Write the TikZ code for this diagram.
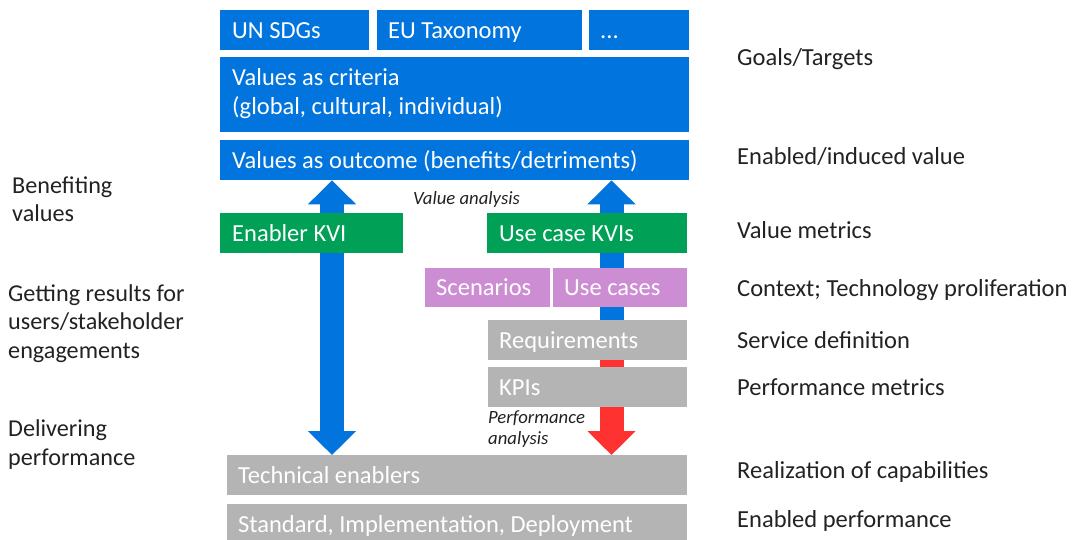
\documentclass[tikz,border=0pt]{standalone}
\usepackage{fontspec}
\setmainfont{Carlito}
\usetikzlibrary{arrows.meta,calc}
\definecolor{eblue}{HTML}{0174DD}
\definecolor{egreen}{HTML}{00A056}
\definecolor{epurple}{HTML}{CC8DD3}
\definecolor{egray}{HTML}{B4B4B4}
\definecolor{ered}{HTML}{FF3232}
\definecolor{etext}{HTML}{222222}
\begin{document}
\begin{tikzpicture}[x=1pt,y=-1pt,
  box/.style={rectangle,draw=none,inner sep=0pt,anchor=north west,minimum height=40pt},
  bluebox/.style={box,fill=eblue},
  greenbox/.style={box,fill=egreen},
  purplebox/.style={box,fill=epurple},
  graybox/.style={box,fill=egray},
  intext/.style={anchor=base west,inner sep=0pt,text=white,font=\fontsize{24.5}{29}\selectfont},
  sidetext/.style={anchor=base west,inner sep=0pt,text=etext,font=\fontsize{24.5}{29}\selectfont},
  lefttext/.style={anchor=base west,inner sep=0pt,align=left,text=etext,font=\fontsize{24.2}{28.5}\selectfont},
  italtext/.style={anchor=base west,inner sep=0pt,align=left,text=etext,font=\fontsize{18.7}{21}\selectfont\itshape},
  barrow/.style={line width=24pt,draw=eblue,-{Triangle[width=47pt,length=24pt]}},
  bdarrow/.style={line width=24pt,draw=eblue,{Triangle[width=47pt,length=24pt]}-{Triangle[width=47pt,length=24pt]}},
  rarrow/.style={line width=24pt,draw=ered,-{Triangle[width=47pt,length=24pt]}}
]
\useasboundingbox (0,0) rectangle (1074,540);

% boxes
\node[bluebox,minimum width=149pt] (sdg) at (220,10) {};
\node[bluebox,minimum width=205pt] (eu) at (377,10) {};
\node[bluebox,minimum width=100pt] (etc) at (589,10) {};
\node[bluebox,minimum width=469pt,minimum height=75pt] (crit) at (220,57) {};
\node[bluebox,minimum width=469pt] (outc) at (220,140) {};
\node[graybox,minimum width=460pt] (tech) at (227,455) {};
\node[graybox,minimum width=460pt,minimum height=36pt] (std) at (227,504) {};

% arrows (drawn before the boxes they pass behind)
\coordinate (lx) at (332,0);
\coordinate (rx) at (611.5,0);
\coordinate (rj) at (611.5,340);
\draw[bdarrow] (tech.north -| lx) -- (outc.south -| lx);
\draw[barrow] (rj) -- (outc.south -| rx);
\draw[rarrow] (rj) -- (tech.north -| rx);

\node[greenbox,minimum width=183pt] (ekvi) at (220,213) {};
\node[greenbox,minimum width=200pt] (ukvi) at (487,213) {};
\node[purplebox,minimum width=125pt,minimum height=39pt] (scen) at (425,268) {};
\node[purplebox,minimum width=134pt,minimum height=39pt] (ucase) at (553,268) {};
\node[graybox,minimum width=199pt] (req) at (488,320) {};
\node[graybox,minimum width=199pt] (kpi) at (488,367) {};

% box texts
\node[intext] (t1) at ($(sdg.west)+(12,8)$) {UN SDGs};
\node[intext] (t2) at ($(eu.west)+(11,8)$) {EU Taxonomy};
\node[intext] (t3) at ($(etc.west)+(11,8)$) {...};
\node[intext] (t4) at ($(crit.north west)+(12,29)$) {Values as criteria};
\node[intext] (t5) at ($(crit.north west)+(12,58)$) {(global, cultural, individual)};
\node[intext] (t6) at ($(outc.west)+(12,8)$) {Values as outcome (benefits/detriments)};
\node[intext] (t7) at ($(ekvi.west)+(12,8)$) {Enabler KVI};
\node[intext] (t8) at ($(ukvi.west)+(12,8)$) {Use case KVIs};
\node[intext] (t9) at ($(scen.west)+(11,8)$) {Scenarios};
\node[intext] (t10) at ($(ucase.west)+(11,8)$) {Use cases};
\node[intext] (t11) at ($(req.west)+(11,8)$) {Requirements};
\node[intext] (t12) at ($(kpi.west)+(11,8)$) {KPIs};
\node[intext] (t13) at ($(tech.west)+(11,8)$) {Technical enablers};
\node[intext] (t14) at ($(std.north west)+(11,28)$) {Standard, Implementation, Deployment};

% italic labels
\node[italtext] (va) at (413,205) {Value analysis};
\node[italtext] (pa) at (488,444) {Performance\\analysis};

% left labels (base = last line)
\node[lefttext] (l1) at (12,222) {Benefiting\\values};
\node[lefttext] (l2) at (8,358) {Getting results for\\users/stakeholder\\engagements};
\node[lefttext] (l3) at (8,465) {Delivering\\performance};

% right labels
\node[sidetext] (r1) at (737,66) {Goals/Targets};
\node[sidetext] (r2) at (737,165) {Enabled/induced value};
\node[sidetext] (r3) at (737,239) {Value metrics};
\node[sidetext] (r4) at (737,296) {Context; Technology proliferation};
\node[sidetext] (r5) at (737,348) {Service definition};
\node[sidetext] (r6) at (737,395) {Performance metrics};
\node[sidetext] (r7) at (737,478) {Realization of capabilities};
\node[sidetext] (r8) at (737,527) {Enabled performance};
\end{tikzpicture}
\end{document}
